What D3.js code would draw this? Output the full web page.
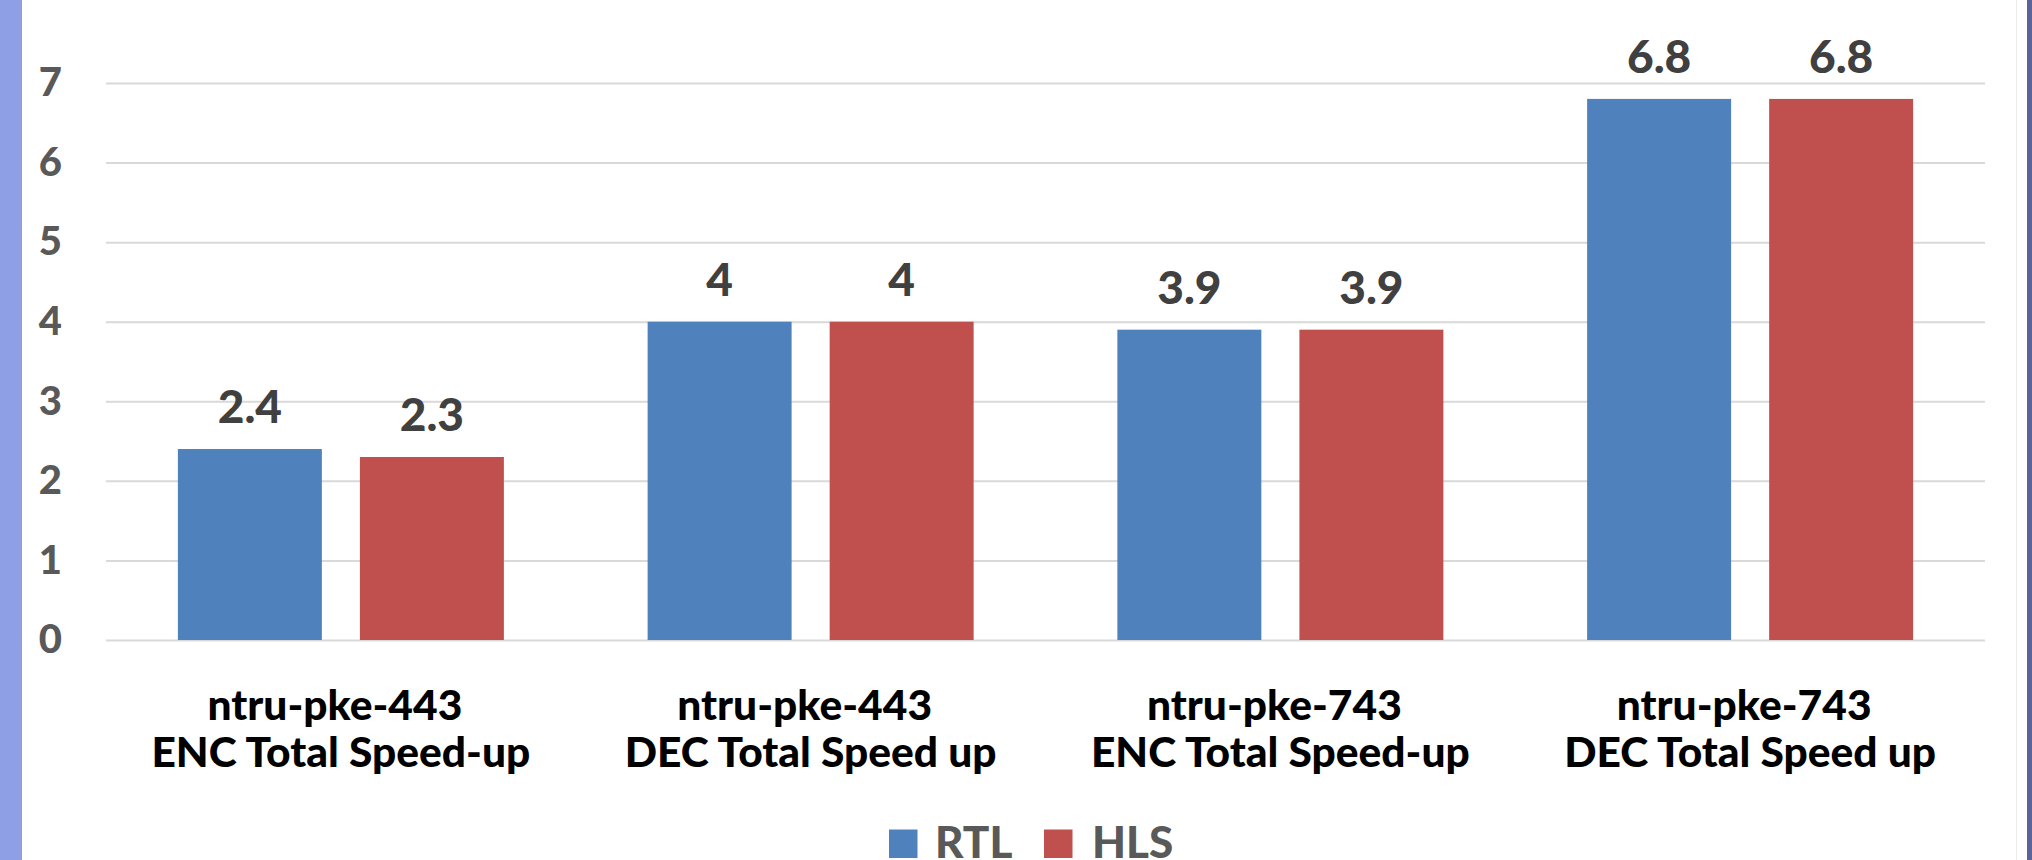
<!DOCTYPE html>
<html>
<head>
<meta charset="utf-8">
<script src="https://cdn.jsdelivr.net/npm/d3@7"></script>
<style>
  html, body { margin: 0; padding: 0; background: #fff; }
  svg { display: block; }
  text { font-family: Lato, "Open Sans", sans-serif; font-weight: 900; }
</style>
</head>
<body>
<svg id="chart" width="2032" height="860"></svg>
<script>
const categoryLine1 = ["ntru-pke-443", "ntru-pke-443", "ntru-pke-743", "ntru-pke-743"];
const categoryLine2 = ["ENC Total Speed-up", "DEC Total Speed up", "ENC Total Speed-up", "DEC Total Speed up"];
const seriesNames = ["RTL", "HLS"];
const rtlValues = [2.4, 4, 3.9, 6.8];
const hlsValues = [2.3, 4, 3.9, 6.8];
const yTicks = [0, 1, 2, 3, 4, 5, 6, 7];
const seriesColors = ["#4F81BD", "#C0504D"];

const svg = d3.select("#chart");
const W = 2032, H = 860;

// frame decorations
svg.append("rect").attr("x", 0).attr("y", 0).attr("width", 22).attr("height", H).attr("fill", "#8E9FE6");
svg.append("line").attr("x1", 2016.5).attr("x2", 2016.5).attr("y1", 0).attr("y2", H).attr("stroke", "#ececec").attr("stroke-width", 1);
svg.append("rect").attr("x", 2027).attr("y", 0).attr("width", 5).attr("height", H).attr("fill", "#5A6597");

const plotLeft = 106, plotRight = 1985;
const cats = categoryLine1.map((d, i) => i);

const x0 = d3.scaleBand().domain(cats).range([plotLeft, plotRight]).paddingInner(0.306).paddingOuter(0.153);
const x1 = d3.scaleBand().domain(seriesNames).range([0, x0.bandwidth()]).paddingInner(0.209).paddingOuter(0);
const y = d3.scaleLinear().domain([0, 7]).range([640, 83]);

// gridlines + y labels via axis
const yAxis = d3.axisLeft(y).tickValues(yTicks).tickFormat(d3.format("d"))
  .tickSizeInner(-(plotRight - plotLeft)).tickSizeOuter(0).tickPadding(44);
const gy = svg.append("g").attr("transform", `translate(${plotLeft},0)`).call(yAxis);
gy.select(".domain").remove();
gy.selectAll(".tick line").attr("stroke", "#d9d9d9").attr("stroke-width", 2);
gy.selectAll(".tick text").attr("fill", "#595959").attr("font-size", 40)
  .attr("font-family", "Lato, 'Open Sans', sans-serif").attr("font-weight", "900");

const data = cats.map(i => ({ i, vals: [{ s: "RTL", v: rtlValues[i], c: seriesColors[0] }, { s: "HLS", v: hlsValues[i], c: seriesColors[1] }] }));

const groups = svg.append("g").selectAll("g").data(data).join("g")
  .attr("transform", d => `translate(${x0(d.i)},0)`);

groups.selectAll("rect").data(d => d.vals).join("rect")
  .attr("x", d => x1(d.s))
  .attr("width", x1.bandwidth())
  .attr("y", d => y(d.v))
  .attr("height", d => y(0) - y(d.v))
  .attr("fill", d => d.c);

groups.selectAll("text.val").data(d => d.vals).join("text")
  .attr("class", "val")
  .attr("x", d => x1(d.s) + x1.bandwidth() / 2)
  .attr("y", d => y(d.v) - 26)
  .attr("text-anchor", "middle")
  .attr("font-size", 46)
  .attr("fill", "#404040")
  .text(d => d.v);

// category labels
const catG = svg.append("g");
cats.forEach(i => {
  const cx = x0(i) + x0.bandwidth() / 2;
  catG.append("text").attr("x", cx).attr("y", 720).attr("dx", -6).attr("text-anchor", "middle")
    .attr("font-size", 42.5).attr("fill", "#000").text(categoryLine1[i]);
  catG.append("text").attr("x", cx).attr("y", 767).attr("text-anchor", "middle")
    .attr("font-size", 42.5).attr("fill", "#000").text(categoryLine2[i]);
});

// legend
const legendItems = [
  { name: seriesNames[0], color: seriesColors[0], sx: 889, tx: 935 },
  { name: seriesNames[1], color: seriesColors[1], sx: 1044, tx: 1092 }
];
const lg = svg.append("g");
legendItems.forEach(it => {
  lg.append("rect").attr("x", it.sx).attr("y", 829.5).attr("width", 28.5).attr("height", 28.5).attr("fill", it.color);
  lg.append("text").attr("x", it.tx).attr("y", 858).attr("font-size", 44).attr("fill", "#595959").text(it.name);
});
</script>
</body>
</html>
